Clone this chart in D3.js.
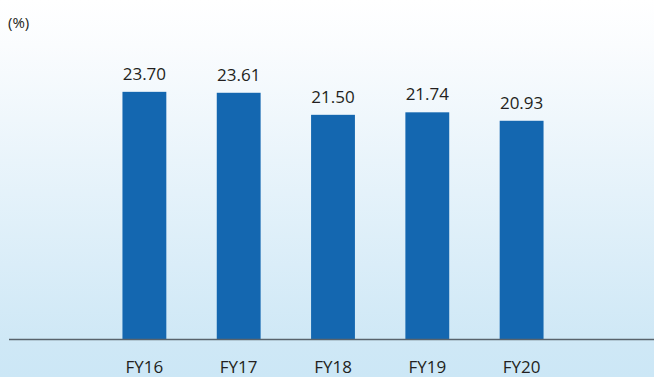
<!DOCTYPE html>
<html>
<head>
<meta charset="utf-8">
<script src="https://cdn.jsdelivr.net/npm/d3@7"></script>
<style>
  html, body { margin: 0; padding: 0; background: #fff; }
  svg { display: block; }
  text { font-family: "Open Sans", "Noto Sans", sans-serif; fill: #231f20; }
</style>
</head>
<body>
<svg id="chart" width="654" height="377"></svg>
<script>
// Ratio by fiscal year (%)
const categories = ["FY16", "FY17", "FY18", "FY19", "FY20"];
const values = [23.70, 23.61, 21.50, 21.74, 20.93];
const unitLabel = "(%)";

const W = 654, H = 377;
const baseY = 339.5;
const svg = d3.select("#chart");

// Soft white-to-blue backdrop
const defs = svg.append("defs");
const grad = defs.append("linearGradient")
  .attr("id", "bg").attr("x1", 0).attr("y1", 0).attr("x2", 0).attr("y2", 1);
grad.append("stop").attr("offset", "0").attr("stop-color", "#ffffff");
grad.append("stop").attr("offset", "0.12").attr("stop-color", "#fafcfe");
grad.append("stop").attr("offset", "0.9").attr("stop-color", "#cfe8f6");
grad.append("stop").attr("offset", "1").attr("stop-color", "#cce7f6");
svg.append("rect").attr("width", W).attr("height", H).attr("fill", "url(#bg)");

const x = d3.scaleBand()
  .domain(categories)
  .range([97, 569])
  .paddingInner(0.535)
  .paddingOuter(0.27);

const y = d3.scaleLinear()
  .domain([0, 24])
  .range([baseY, baseY - 24 * 10.45]);

// Bars
svg.append("g").selectAll("rect")
  .data(values)
  .join("rect")
  .attr("x", (d, i) => x(categories[i]))
  .attr("y", d => y(d))
  .attr("width", x.bandwidth())
  .attr("height", d => baseY - y(d))
  .attr("fill", "#1467b0");

// Value labels
svg.append("g").selectAll("text")
  .data(values)
  .join("text")
  .attr("x", (d, i) => x(categories[i]) + x.bandwidth() / 2)
  .attr("y", d => y(d) - 12)
  .attr("text-anchor", "middle")
  .style("font-size", "17px")
  .text(d => d.toFixed(2));

// Baseline and category axis
const axis = d3.axisBottom(x).tickSize(0).tickPadding(0);
const gx = svg.append("g").attr("transform", `translate(0,${baseY})`).call(axis);
gx.select(".domain").remove();
gx.selectAll("text")
  .attr("dy", null)
  .attr("y", 33)
  .style("font-size", "17px")
  .style("font-family", "\"Open Sans\", \"Noto Sans\", sans-serif")
  .attr("fill", "#231f20");

svg.append("line")
  .attr("x1", 9).attr("x2", W)
  .attr("y1", baseY).attr("y2", baseY)
  .attr("stroke", "#58636c")
  .attr("stroke-width", 1.5);

// Unit label
svg.append("text")
  .attr("x", 8).attr("y", 28)
  .style("font-size", "15px")
  .text(unitLabel);
</script>
</body>
</html>
